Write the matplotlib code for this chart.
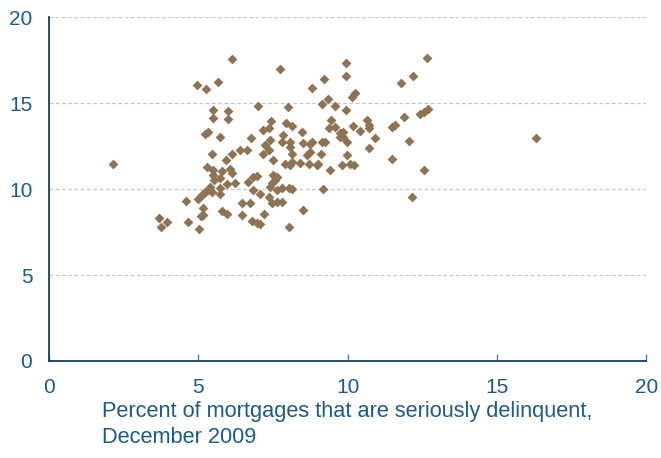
import numpy as np
import matplotlib
matplotlib.use("Agg")
import matplotlib.pyplot as plt

plt.rcParams['font.family'] = ['Liberation Sans', 'DejaVu Sans']

# delinquency rate (x) vs. the other rate (y), one point per area
delinq = [
    2.15, 16.3, 3.69, 3.94, 3.74, 4.59, 4.65, 5.03, 5.00, 5.11,
    5.17, 5.23, 5.34, 5.17, 5.17, 5.09, 5.28, 4.95, 5.25, 5.23,
    5.34, 5.48, 5.48, 5.66, 6.14, 6.00, 6.00, 6.99, 7.75, 8.00,
    8.81, 9.20, 9.95, 9.95, 12.65, 12.20, 11.78, 10.14, 10.25, 9.13,
    9.35, 9.58, 9.94, 11.88, 12.42, 12.55, 12.68, 11.59, 11.48, 12.07,
    9.45, 9.36, 9.58, 9.75, 9.85, 9.86, 9.75, 9.97, 10.17, 10.40,
    10.66, 10.70, 10.73, 10.90, 10.73, 9.25, 9.13, 8.80, 8.74, 8.52,
    8.07, 7.40, 6.77, 5.73, 7.44, 7.35, 7.18, 7.94, 8.13, 7.85,
    8.47, 7.24, 7.35, 6.40, 6.62, 5.45, 6.12, 7.18, 7.51, 8.13,
    8.13, 7.91, 8.07, 8.41, 8.63, 8.69, 8.74, 9.02, 9.11, 5.93,
    6.06, 6.12, 5.79, 5.48, 5.50, 5.53, 5.95, 6.23, 6.68, 6.84,
    6.96, 6.84, 7.07, 7.40, 7.46, 7.57, 7.63, 7.51, 7.63, 7.80,
    8.02, 8.13, 7.46, 7.63, 7.80, 7.38, 6.46, 6.73, 5.79, 5.97,
    6.46, 7.20, 6.79, 6.96, 7.07, 8.02, 8.52, 5.73, 5.73, 5.73,
    5.39, 5.45, 9.19, 8.97, 9.41, 9.97, 10.20, 10.08, 9.80, 11.48,
    12.56, 12.15, 7.80, 8.07,
]
other = [
    11.45, 12.97, 8.30, 8.06, 7.77, 9.30, 8.06, 7.67, 9.40, 9.65,
    9.74, 9.84, 9.94, 8.88, 8.49, 8.43, 11.30, 16.08, 15.81, 13.23,
    13.33, 14.60, 14.15, 16.24, 17.58, 14.55, 14.07, 14.83, 17.00, 14.77,
    15.87, 16.40, 17.37, 16.60, 17.65, 16.60, 16.18, 15.37, 15.57, 14.95,
    15.23, 14.83, 14.63, 14.20, 14.35, 14.50, 14.68, 13.72, 13.62, 12.81,
    14.01, 13.53, 13.62, 13.26, 13.33, 13.04, 13.04, 12.75, 13.66, 13.37,
    14.01, 13.72, 13.53, 12.95, 12.42, 12.75, 12.75, 12.75, 12.65, 12.66,
    12.75, 12.85, 12.95, 13.04, 13.95, 13.53, 13.43, 13.87, 13.68, 13.14,
    13.30, 12.56, 12.30, 12.25, 12.25, 12.07, 12.03, 12.03, 11.72, 12.07,
    11.59, 11.49, 11.40, 11.55, 11.98, 11.49, 12.17, 11.49, 12.03, 11.69,
    11.20, 10.95, 11.06, 11.10, 10.81, 10.52, 10.29, 10.37, 10.44, 10.73,
    10.76, 9.94, 9.74, 10.13, 10.33, 10.52, 10.73, 10.81, 9.94, 10.04,
    10.04, 9.98, 9.20, 9.26, 9.26, 9.56, 9.17, 9.17, 8.72, 8.58,
    8.47, 8.55, 8.14, 8.04, 7.97, 7.81, 8.78, 10.62, 9.74, 10.04,
    10.14, 9.84, 9.98, 11.40, 11.10, 11.98, 11.40, 11.49, 11.40, 11.78,
    11.14, 9.55, 12.75, 12.46,
]

x_ticks = [0, 5, 10, 15, 20]
y_ticks = [0, 5, 10, 15, 20]
x_label = 'Percent of mortgages that are seriously delinquent,\nDecember 2009'

text_col = '#1d5b86'
axis_col = '#143f63'
dot_col = '#8e7455'

fig = plt.figure(figsize=(6.61, 4.58), dpi=100)
ax = fig.add_axes([0.0741, 0.2118, 0.9037, 0.7504])

ax.scatter(delinq, other, marker='D', s=25, color=dot_col, linewidths=0, zorder=3)

ax.set_xlim(0, 20)
ax.set_ylim(0, 20)
ax.set_xticks(x_ticks)
ax.set_yticks(y_ticks)

for y in y_ticks[1:]:
    ax.axhline(y, color='#c6c6c6', lw=0.9, ls=(0, (3, 2)), zorder=1)

for s in ['top', 'right']:
    ax.spines[s].set_visible(False)
for s in ['left', 'bottom']:
    ax.spines[s].set_color(axis_col)
    ax.spines[s].set_linewidth(1.3)

ax.tick_params(axis='x', direction='in', length=5, width=1, color='#4a7fa8',
               labelsize=15, labelcolor=text_col, pad=12)
ax.tick_params(axis='y', length=0, labelsize=15, labelcolor=text_col, pad=12)

ax.set_xlabel(x_label, fontsize=15.7, color=text_col, multialignment='left',
              linespacing=1.3, labelpad=3)

fig.savefig('out.png', dpi=100)
